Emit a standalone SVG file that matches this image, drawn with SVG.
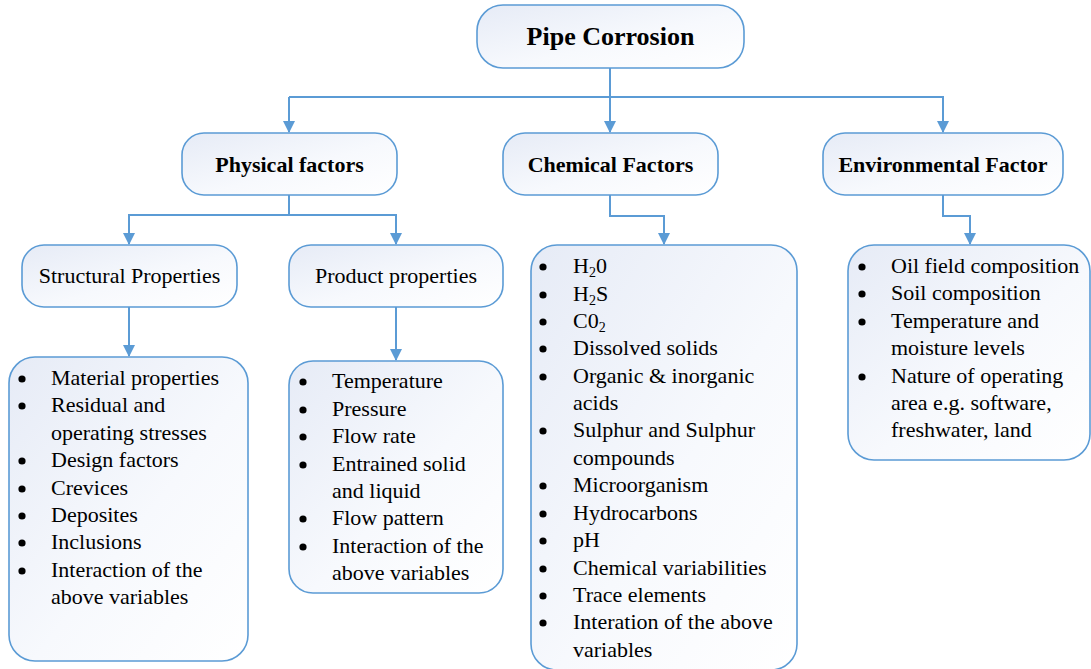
<svg xmlns="http://www.w3.org/2000/svg" width="1091" height="669" viewBox="0 0 1091 669">
  <defs>
    <linearGradient id="boxFill" x1="0" y1="0" x2="1" y2="1">
      <stop offset="0" stop-color="#e6ebf6"/>
      <stop offset="0.55" stop-color="#f7f9fd"/>
      <stop offset="1" stop-color="#ffffff"/>
    </linearGradient>
    <marker id="arrow" viewBox="0 0 12 12" refX="11" refY="6" markerWidth="12" markerHeight="12" markerUnits="userSpaceOnUse" orient="auto">
      <path d="M0,0 L12,6 L0,12 z" fill="#5b9bd5"/>
    </marker>
    <style>
      .box { fill: url(#boxFill); stroke: #5b9bd5; stroke-width: 1.6; }
      .link { fill: none; stroke: #5b9bd5; stroke-width: 2; marker-end: url(#arrow); }
      .head { font-family: "Liberation Serif", "Times New Roman", serif; font-weight: bold; font-size: 22px; fill: #000; text-anchor: middle; }
      .title { font-size: 26px; }
      .sub { font-family: "Liberation Serif", "Times New Roman", serif; font-size: 22px; fill: #000; text-anchor: middle; }
      .item { font-family: "Liberation Serif", "Times New Roman", serif; font-size: 22px; fill: #000; }
      .small { font-size: 14px; }
      .dot { fill: #000; }
    </style>
  </defs>

  <!-- connectors -->
  <g id="connectors">
    <path class="link" d="M610,68 V132"/>
    <path class="link" d="M289,97 H610 M289,97 V132"/>
    <path class="link" d="M610,97 H943 V132"/>
    <path class="link" d="M289,195 V215 H129 V244"/>
    <path class="link" d="M289,215 H396 V244"/>
    <path class="link" d="M610,195 V216 H664 V244"/>
    <path class="link" d="M943,195 V216 H970 V244"/>
    <path class="link" d="M129,307 V356"/>
    <path class="link" d="M396,307 V360"/>
  </g>

  <!-- root -->
  <g id="pipe-corrosion">
    <rect class="box" x="477" y="5" width="267" height="63" rx="26"/>
    <text class="head title" x="610.5" y="45">Pipe Corrosion</text>
  </g>

  <!-- factor groups -->
  <g id="physical-factors">
    <rect class="box" x="182" y="133" width="215" height="62" rx="22"/>
    <text class="head" x="289.5" y="172">Physical factors</text>
  </g>
  <g id="chemical-factors">
    <rect class="box" x="503" y="133" width="215" height="62" rx="22"/>
    <text class="head" x="610.5" y="172">Chemical Factors</text>
  </g>
  <g id="environmental-factor">
    <rect class="box" x="823" y="133" width="240" height="62" rx="22"/>
    <text class="head" x="943" y="172">Environmental Factor</text>
  </g>

  <!-- physical sub-groups -->
  <g id="structural-properties">
    <rect class="box" x="22" y="245" width="215" height="62" rx="22"/>
    <text class="sub" x="129.5" y="283">Structural Properties</text>
  </g>
  <g id="product-properties">
    <rect class="box" x="289" y="245" width="214" height="62" rx="22"/>
    <text class="sub" x="396" y="283">Product properties</text>
  </g>

  <!-- structural list -->
  <g id="structural-list">
    <rect class="box" x="9" y="357" width="239" height="304" rx="26"/>
    <g class="dot">
      <circle cx="22" cy="379" r="3.6"/>
      <circle cx="22" cy="406" r="3.6"/>
      <circle cx="22" cy="461" r="3.6"/>
      <circle cx="22" cy="489" r="3.6"/>
      <circle cx="22" cy="516" r="3.6"/>
      <circle cx="22" cy="543" r="3.6"/>
      <circle cx="22" cy="571" r="3.6"/>
    </g>
    <g class="item">
      <text x="51" y="385">Material properties</text>
      <text x="51" y="412">Residual and</text>
      <text x="51" y="440">operating stresses</text>
      <text x="51" y="467">Design factors</text>
      <text x="51" y="495">Crevices</text>
      <text x="51" y="522">Deposites</text>
      <text x="51" y="549">Inclusions</text>
      <text x="51" y="577">Interaction of the</text>
      <text x="51" y="604">above variables</text>
    </g>
  </g>

  <!-- product list -->
  <g id="product-list">
    <rect class="box" x="289" y="361" width="214" height="232" rx="24"/>
    <g class="dot">
      <circle cx="303" cy="382" r="3.6"/>
      <circle cx="303" cy="410" r="3.6"/>
      <circle cx="303" cy="437" r="3.6"/>
      <circle cx="303" cy="465" r="3.6"/>
      <circle cx="303" cy="519" r="3.6"/>
      <circle cx="303" cy="547" r="3.6"/>
    </g>
    <g class="item">
      <text x="332" y="388">Temperature</text>
      <text x="332" y="416">Pressure</text>
      <text x="332" y="443">Flow rate</text>
      <text x="332" y="471">Entrained solid</text>
      <text x="332" y="498">and liquid</text>
      <text x="332" y="525">Flow pattern</text>
      <text x="332" y="553">Interaction of the</text>
      <text x="332" y="580">above variables</text>
    </g>
  </g>

  <!-- chemical list -->
  <g id="chemical-list">
    <rect class="box" x="531" y="245" width="266" height="425" rx="26"/>
    <g class="dot">
      <circle cx="543" cy="267" r="3.6"/>
      <circle cx="543" cy="295" r="3.6"/>
      <circle cx="543" cy="322" r="3.6"/>
      <circle cx="543" cy="349" r="3.6"/>
      <circle cx="543" cy="377" r="3.6"/>
      <circle cx="543" cy="431" r="3.6"/>
      <circle cx="543" cy="486" r="3.6"/>
      <circle cx="543" cy="514" r="3.6"/>
      <circle cx="543" cy="541" r="3.6"/>
      <circle cx="543" cy="569" r="3.6"/>
      <circle cx="543" cy="596" r="3.6"/>
      <circle cx="543" cy="623" r="3.6"/>
    </g>
    <g class="item">
      <text x="573" y="273">H<tspan class="small" dy="4">2</tspan><tspan dy="-4">0</tspan></text>
      <text x="573" y="301">H<tspan class="small" dy="4">2</tspan><tspan dy="-4">S</tspan></text>
      <text x="573" y="328">C0<tspan class="small" dy="4">2</tspan></text>
      <text x="573" y="355">Dissolved solids</text>
      <text x="573" y="383">Organic &amp; inorganic</text>
      <text x="573" y="410">acids</text>
      <text x="573" y="437">Sulphur and Sulphur</text>
      <text x="573" y="465">compounds</text>
      <text x="573" y="492">Microorganism</text>
      <text x="573" y="520">Hydrocarbons</text>
      <text x="573" y="547">pH</text>
      <text x="573" y="575">Chemical variabilities</text>
      <text x="573" y="602">Trace elements</text>
      <text x="573" y="629">Interation of the above</text>
      <text x="573" y="657">variables</text>
    </g>
  </g>

  <!-- environmental list -->
  <g id="environmental-list">
    <rect class="box" x="848" y="245" width="242" height="215" rx="26"/>
    <g class="dot">
      <circle cx="862" cy="267" r="3.6"/>
      <circle cx="862" cy="294" r="3.6"/>
      <circle cx="862" cy="322" r="3.6"/>
      <circle cx="862" cy="377" r="3.6"/>
    </g>
    <g class="item">
      <text x="891" y="273">Oil field composition</text>
      <text x="891" y="300">Soil composition</text>
      <text x="891" y="328">Temperature and</text>
      <text x="891" y="355">moisture levels</text>
      <text x="891" y="383">Nature of operating</text>
      <text x="891" y="410">area e.g. software,</text>
      <text x="891" y="437">freshwater, land</text>
    </g>
  </g>
</svg>
